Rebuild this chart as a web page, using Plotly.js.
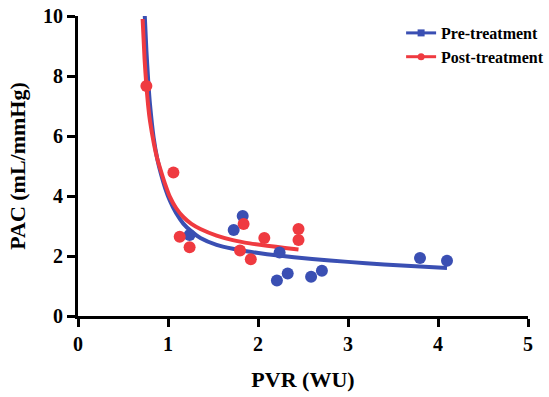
<!DOCTYPE html>
<html>
<head>
<meta charset="utf-8">
<script src="https://cdn.plot.ly/plotly-3.0.1.min.js"></script>
<style>html,body{margin:0;padding:0;background:#fff;}#chart{width:549px;height:397px;}</style>
</head>
<body>
<div id="chart"></div>
<script>
// Scatter data
var preX = [1.24, 1.73, 1.83, 2.24, 2.21, 2.33, 2.59, 2.71, 3.80, 4.10];
var preY = [2.70, 2.87, 3.33, 2.12, 1.18, 1.42, 1.31, 1.51, 1.93, 1.84];
var postX = [0.76, 1.06, 1.13, 1.24, 1.80, 1.84, 1.92, 2.07, 2.45, 2.45];
var postY = [7.67, 4.78, 2.64, 2.29, 2.18, 3.07, 1.89, 2.60, 2.90, 2.53];

// Fitted curves
var preFitX = [0.742, 0.76, 0.78, 0.80, 0.84, 0.88, 0.925, 0.97, 1.02, 1.09, 1.17, 1.26, 1.36, 1.54, 1.72, 1.91, 2.1, 2.4, 2.8, 3.2, 3.6, 4.1];
var preFitY = [10.0, 8.85, 7.85, 7.05, 5.95, 5.25, 4.70, 4.25, 3.85, 3.43, 3.08, 2.82, 2.60, 2.37, 2.24, 2.14, 2.06, 1.96, 1.85, 1.76, 1.68, 1.60];
var postFitX = [0.718, 0.74, 0.76, 0.78, 0.80, 0.84, 0.88, 0.925, 0.97, 1.02, 1.09, 1.17, 1.26, 1.36, 1.54, 1.72, 1.91, 2.1, 2.3, 2.45];
var postFitY = [9.90, 8.55, 7.67, 7.00, 6.50, 5.80, 5.25, 4.80, 4.38, 3.98, 3.60, 3.30, 3.07, 2.90, 2.68, 2.53, 2.42, 2.34, 2.27, 2.22];

var seriesNames = ["Pre-treatment", "Post-treatment"];
var xTicks = [0, 1, 2, 3, 4, 5];
var yTicks = [0, 2, 4, 6, 8, 10];

var BLUE = "#3a4fb3";
var RED = "#ef3a40";
var FONT = "Liberation Serif, Times New Roman, serif";

var traces = [
  {x: preFitX, y: preFitY, mode: "lines", line: {color: BLUE, width: 4, shape: "spline", smoothing: 0.5}, showlegend: false, hoverinfo: "skip"},
  {x: postFitX, y: postFitY, mode: "lines", line: {color: RED, width: 4, shape: "spline", smoothing: 0.5}, showlegend: false, hoverinfo: "skip"},
  {x: preX, y: preY, mode: "markers", marker: {color: BLUE, size: 12}, showlegend: false},
  {x: postX, y: postY, mode: "markers", marker: {color: RED, size: 12}, showlegend: false},
  {x: [null], y: [null], name: seriesNames[0], mode: "lines+markers", line: {color: BLUE, width: 3}, marker: {color: BLUE, size: 7, symbol: "square"}},
  {x: [null], y: [null], name: seriesNames[1], mode: "lines+markers", line: {color: RED, width: 3}, marker: {color: RED, size: 7, symbol: "circle"}}
];

var axisCommon = {
  showgrid: false, zeroline: false, showline: true, linecolor: "#000", linewidth: 3,
  ticks: "outside", ticklen: 8, tickwidth: 3, tickcolor: "#000",
  tickfont: {family: FONT, size: 20, color: "#000", weight: "bold"},
  fixedrange: true
};

var layout = {
  width: 549, height: 397,
  margin: {l: 78, r: 21, t: 16, b: 81, autoexpand: false},
  paper_bgcolor: "#fff", plot_bgcolor: "#fff",
  xaxis: Object.assign({}, axisCommon, {
    range: [0, 5], tickvals: xTicks, ticktext: xTicks.map(String),
    title: {text: "<b>PVR (WU)</b>", font: {family: FONT, size: 22, color: "#000"}, standoff: 18}
  }),
  yaxis: Object.assign({}, axisCommon, {
    range: [0, 10], tickvals: yTicks, ticktext: yTicks.map(String),
    title: {text: "<b>PAC (mL/mmHg)</b>", font: {family: FONT, size: 22, color: "#000"}, standoff: 12}
  }),
  legend: {
    x: 0.718, y: 1.0, xanchor: "left", yanchor: "top",
    font: {family: FONT, size: 16, color: "#000", weight: "bold"},
    bgcolor: "rgba(0,0,0,0)", itemwidth: 30
  },
  showlegend: true
};

Plotly.newPlot("chart", traces, layout, {displayModeBar: false, staticPlot: true});
</script>
</body>
</html>
